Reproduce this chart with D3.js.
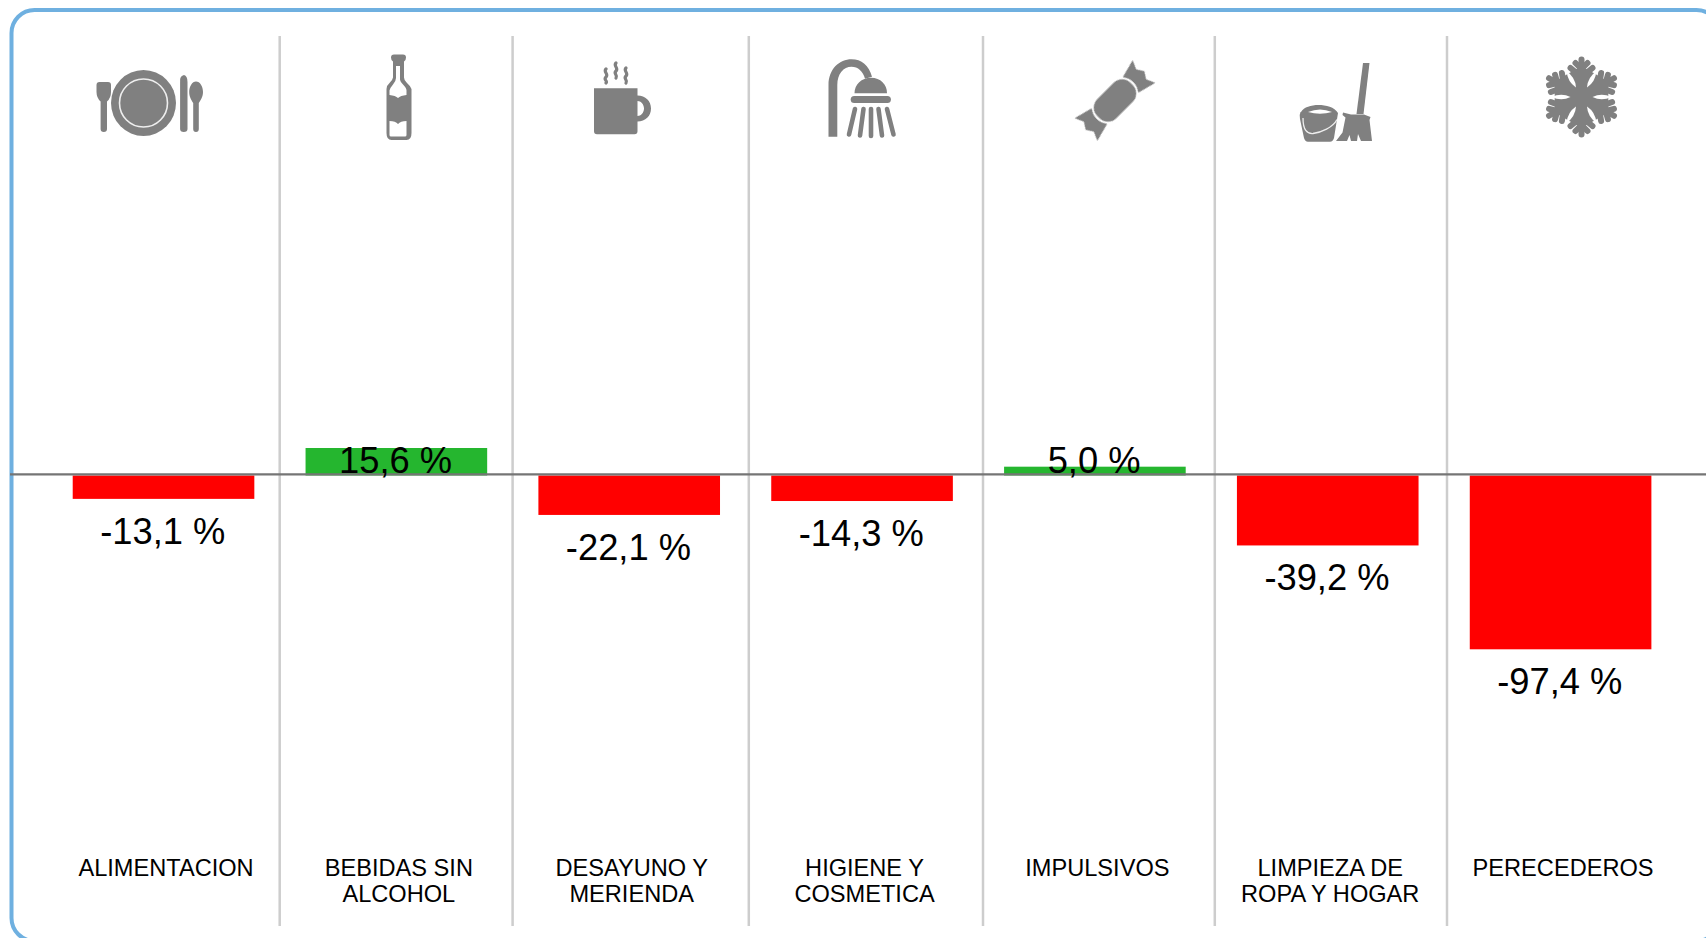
<!DOCTYPE html>
<html lang="es">
<head>
<meta charset="utf-8">
<script src="https://cdn.jsdelivr.net/npm/d3@7/dist/d3.min.js"></script>
<style>
html,body{margin:0;padding:0;background:#fff;overflow:hidden}
svg{display:block}
text{font-family:"Liberation Sans",Arial,sans-serif;fill:#000}
</style>
</head>
<body>
<svg id="chart" width="1706" height="938"></svg>
<script>
const categories = ["ALIMENTACION","BEBIDAS SIN ALCOHOL","DESAYUNO Y MERIENDA","HIGIENE Y COSMETICA","IMPULSIVOS","LIMPIEZA DE ROPA Y HOGAR","PERECEDEROS"];
const categoryLines = [["ALIMENTACION"],["BEBIDAS SIN","ALCOHOL"],["DESAYUNO Y","MERIENDA"],["HIGIENE Y","COSMETICA"],["IMPULSIVOS"],["LIMPIEZA DE","ROPA Y HOGAR"],["PERECEDEROS"]];
const values = [-13.1, 15.6, -22.1, -14.3, 5.0, -39.2, -97.4];

const svg = d3.select("#chart");
const locale = d3.formatLocale({decimal:",",thousands:".",grouping:[3],currency:["","€"],minus:"-"});
const fmt = v => locale.format(".1f")(v) + " %";

const x = d3.scaleBand().domain(categories).range([47.1,1677]).paddingInner(0.22).paddingOuter(0.11);
const y = d3.scaleLinear().domain([-97.4,0,15.6]).range([649.3,475.5,448]);
const gray = "#808080";

// frame
svg.append("rect").attr("x",11.5).attr("y",10).attr("width",1708).attr("height",931).attr("rx",23)
  .attr("fill","#fff").attr("stroke","#6fb0e0").attr("stroke-width",4);

// column separators
const columnEdges = [279.7,512.6,748.8,983,1214.8,1447];
svg.append("g").selectAll("line").data(columnEdges).join("line")
  .attr("x1",d=>d).attr("x2",d=>d).attr("y1",36).attr("y2",926)
  .attr("stroke","#cdcdcd").attr("stroke-width",2.5);

// bars
svg.append("g").selectAll("rect").data(values).join("rect")
  .attr("x",(d,i)=>x(categories[i])).attr("width",x.bandwidth())
  .attr("y",d=>Math.min(y(d),y(0))).attr("height",d=>Math.abs(y(d)-y(0)))
  .attr("fill",d=>d<0?"#ff0000":"#25b62f");

// zero line
svg.append("line").attr("x1",10).attr("x2",1706).attr("y1",474.4).attr("y2",474.4)
  .attr("stroke","#757575").attr("stroke-width",2.3);

// value labels: negative ones hang under the bar, positive ones sit on the zero line
svg.append("g").selectAll("text").data(values).join("text")
  .attr("x",(d,i)=>x(categories[i])+x.bandwidth()/2-0.8)
  .attr("y",d=>d<0?y(d)+44.8:y(0)-2.2)
  .attr("text-anchor","middle").attr("font-size",36.3).text(fmt);

// category labels
const labels = svg.append("g").selectAll("text").data(categoryLines).join("text")
  .attr("text-anchor","middle").attr("font-size",23.6);
labels.each(function(lines,i){
  const cx = x(categories[i])+x.bandwidth()/2+2.5;
  d3.select(this).selectAll("tspan").data(lines).join("tspan")
    .attr("x",cx).attr("y",(d,j)=>875.6+j*26.7).text(d=>d);
});

// pictograms
const ic = svg.append("g").attr("fill",gray).style("filter","blur(0.4px)");

// plate and cutlery
const p = ic.append("g");
p.append("ellipse").attr("cx",143.5).attr("cy",103).attr("rx",32.5).attr("ry",33);
p.append("circle").attr("cx",143.5).attr("cy",103).attr("r",24).attr("fill","none").attr("stroke","#eee").attr("stroke-width",1.6);
p.append("path").attr("d","M96.5 85q0-3 3-3h8.500q3 0 3 3v7q0 6-4 9.500v27.500q0 3-3.200 3t-3.200-3v-27.500q-4-3.500-4.100-9.500z");
p.append("path").attr("d","M184 75q3.500 1 3.500 7v47q0 3-3.700 3t-3.700-3V80q0-4 3.900-5z");
p.append("path").attr("d","M196 81.500c4 0 7 5 7 10.500s-3 9-4.200 11v26q0 3-2.800 3t-2.800-3v-26c-1.200-2-4-5.500-4-11s3-10.500 6.800-10.500z");

// bottle
ic.append("path").attr("fill-rule","evenodd").attr("d",
 "M393 54.500h10q3 0 3 3t-2 4v16q0 3 3 5.500t4.500 6v44q0 7-5 7h-15q-5 0-5-7v-44q0-3.500 3-6t3.500-5.500v-16q-2-1-2-4t3-3z"+
 "M396 66v12q0 3-3 6.500t-3.500 6v4.500q6 .5 8.500 3 2.500-2.500 8.500-3v-4.500q0-2.500-3.500-6t-3-6.500V66z"+
 "M389.500 121v14q0 1.500 1.500 1.500h14q1.500 0 1.500-1.500v-14q-6 0-8.500 3-2.500-3-8.500-3z");

// mug and steam
ic.append("path").attr("fill-rule","evenodd").attr("d",
 "M594 88.300h43.500v7.200c8 0 13.500 5.500 13.500 13s-5.500 13-13.500 13v9.800q0 3-3 3h-37.500q-3 0-3-3z"+
 "M637.500 101v15c3.500 0 6.500-3.500 6.500-7.500s-3-7.500-6.500-7.500z");
ic.append("g").attr("fill","none").attr("stroke",gray).attr("stroke-width",3.200).attr("stroke-linecap","round")
  .selectAll("path").data(["M606 69c-3 3 3 5 0 8s2 3.500 0 6","M616 63c-3 3 3 5 0 8s2 3.500 0 7","M626 68c-3 3 3 5 0 8s2 3.500 0 7"])
  .join("path").attr("d",d=>d);

// shower
const s = ic.append("g");
s.append("path").attr("d","M828.500 136.700V85c0-16 11-25.700 23-25.700 10 0 17.500 6 20.500 17.500l-7 2c-2-7.500-7-12-13.500-12-8 0-14.200 7-14.200 18.200v51.700z");
s.append("path").attr("d","M854.500 93.300c0-9 7-15.500 16.500-15.500s16 6.500 16 15.500z");
s.append("rect").attr("x",850.700).attr("y",96).attr("width",40.200).attr("height",7).attr("rx",3.500);
s.append("g").attr("stroke",gray).attr("stroke-width",4.600).attr("stroke-linecap","round")
  .selectAll("line").data([[855,109,849,134.500],[863.500,109,860,135.500],[871,109,871,136],[878.500,109,882,135.500],[887,109,893.500,134.500]])
  .join("line").attr("x1",d=>d[0]).attr("y1",d=>d[1]).attr("x2",d=>d[2]).attr("y2",d=>d[3]);

// candy
const c = ic.append("g").attr("transform","translate(1115 100.500) rotate(-45)");
c.append("rect").attr("x",-23.500).attr("y",-13.500).attr("width",47).attr("height",27).attr("rx",12);
const wrap = "M22 -11L41 -16L37 -7L41.500 0L37 7L41 16L22 11Q30 0 22 -11z";
c.append("path").attr("d",wrap);
c.append("path").attr("d",wrap).attr("transform","rotate(180)");

// bucket and broom
const b = ic.append("g");
b.append("path").attr("fill-rule","evenodd").attr("d",
 "M1301 112c3-5 10-7 17.500-7s16 2 19.500 8l-4 25q-1 3.700-4 3.700h-22q-3 0-4-3.700l-4-19q-1-4 .5-7z"+
 "M1308 112Q1320 107 1332 112Q1320 115.500 1308 112z");
b.append("path").attr("fill","none").attr("stroke","#eee").attr("stroke-width",1.300).attr("d","M1303 118c0 12 4 16 10 15.500 8-1 20-6 24-14");
b.append("path").attr("d","M1363 63h6.500l-6 51h-7z");
b.append("path").attr("d","M1343 112.500l8 2h13l6.500 2.500-1 3 2.500 21h-11l-3-7-1 7h-6l-1.500-6-2.500 6h-11l6.500-8.500 3-15-3-2.500z");

// snowflake
const f = ic.append("g").attr("transform","translate(1581.500 97)");
f.append("path").attr("d",d3.range(6).map(k=>{const a=k*Math.PI/3;return (k?"L":"M")+(-31*Math.sin(a)).toFixed(1)+" "+(-31*Math.cos(a)).toFixed(1)}).join("")+"z");
d3.range(6).forEach(k=>{
  const g = f.append("g").attr("transform",`rotate(${k*60})`);
  g.append("g").attr("fill","none").attr("stroke",gray).attr("stroke-width",6).attr("stroke-linecap","round")
   .selectAll("path").data(["M0 0V-37.500","M0 -20L-11 -29M0 -20L11 -29","M0 -28L-6 -34M0 -28L6 -34"]).join("path").attr("d",d=>d);
});
d3.range(6).forEach(k=>{
  f.append("path").attr("transform",`rotate(${k*60+30})`).attr("fill","#fff").attr("d","M0 -11Q4.500 -20 0 -30Q-4.500 -20 0 -11z");
});
</script>
</body>
</html>
